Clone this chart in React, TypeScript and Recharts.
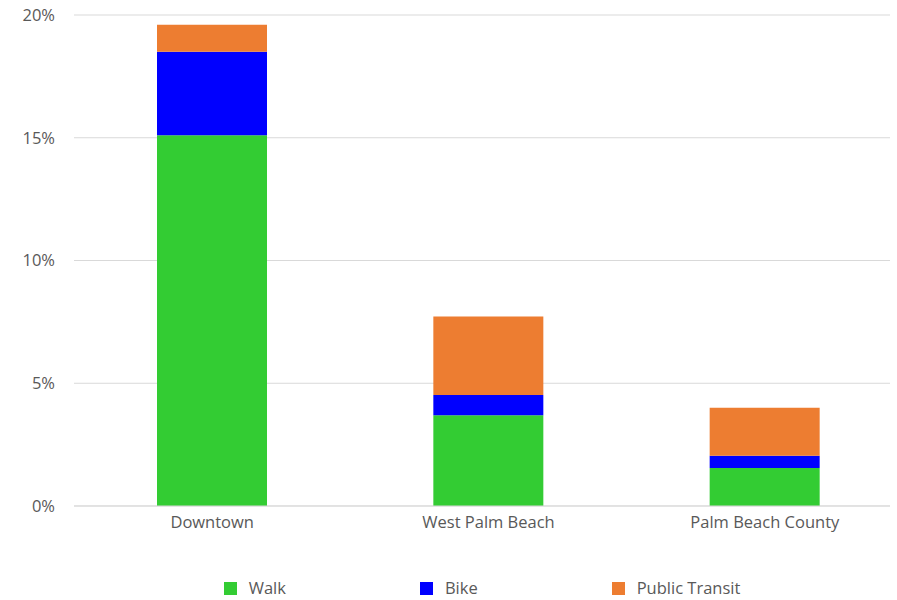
import React from 'react';
import { BarChart, Bar, XAxis, YAxis, CartesianGrid, Legend } from 'recharts';

const categories = ['Downtown', 'West Palm Beach', 'Palm Beach County'];
const walk = [15.1, 3.7, 1.55];
const bike = [3.4, 0.82, 0.5];
const transit = [1.1, 3.2, 1.95];
const yTicks = [0, 5, 10, 15, 20];

const seriesInfo = [
  { key: 'walk', name: 'Walk', color: '#33cc33' },
  { key: 'bike', name: 'Bike', color: '#0000ff' },
  { key: 'transit', name: 'Public Transit', color: '#ed7d31' },
];

const data = categories.map((c, i) => ({
  name: c,
  walk: walk[i],
  bike: bike[i],
  transit: transit[i],
}));

const FONT = '"Open Sans", Lato, sans-serif';
const TEXT = '#595959';

// legend is centred over the plot area, not the whole chart
const LegendBox = () => (
  <div
    style={{
      display: 'flex',
      justifyContent: 'center',
      alignItems: 'center',
      paddingLeft: 74,
      fontFamily: FONT,
      fontSize: 16.5,
      lineHeight: '22px',
      color: TEXT,
      height: 24,
    }}
  >
    {seriesInfo.map((s, i) => (
      <div key={s.key} style={{ display: 'flex', alignItems: 'center', marginLeft: i === 0 ? 0 : 134 }}>
        <span style={{ width: 13, height: 13, background: s.color, display: 'inline-block', marginRight: 12 }} />
        <span>{s.name}</span>
      </div>
    ))}
  </div>
);

export default function App() {
  return (
    <div style={{ position: 'absolute', left: 0, top: 0, background: '#fff' }}>
      <BarChart
        width={897}
        height={600}
        data={data}
        margin={{ top: 15, right: 7, bottom: 40, left: 0 }}
        barSize={110}
      >
        <CartesianGrid vertical={false} stroke="#d9d9d9" />
        <XAxis
          dataKey="name"
          axisLine={{ stroke: '#d9d9d9' }}
          tickLine={false}
          tick={{ fill: TEXT, fontSize: 16.5, fontFamily: FONT }}
          tickMargin={4}
          padding={{ left: 0, right: -13 }}
        />
        <YAxis
          width={74}
          domain={[0, 20]}
          ticks={yTicks}
          tickFormatter={(v) => `${v}%`}
          axisLine={false}
          tickLine={false}
          tickSize={0}
          tickMargin={19}
          tick={{ fill: TEXT, fontSize: 16.5, fontFamily: FONT }}
        />
        {seriesInfo.map((s) => (
          <Bar key={s.key} dataKey={s.key} name={s.name} stackId="a" fill={s.color} isAnimationActive={false} />
        ))}
        <Legend
          verticalAlign="bottom"
          content={() => <LegendBox />}
          wrapperStyle={{ bottom: 0 }}
        />
      </BarChart>
    </div>
  );
}
